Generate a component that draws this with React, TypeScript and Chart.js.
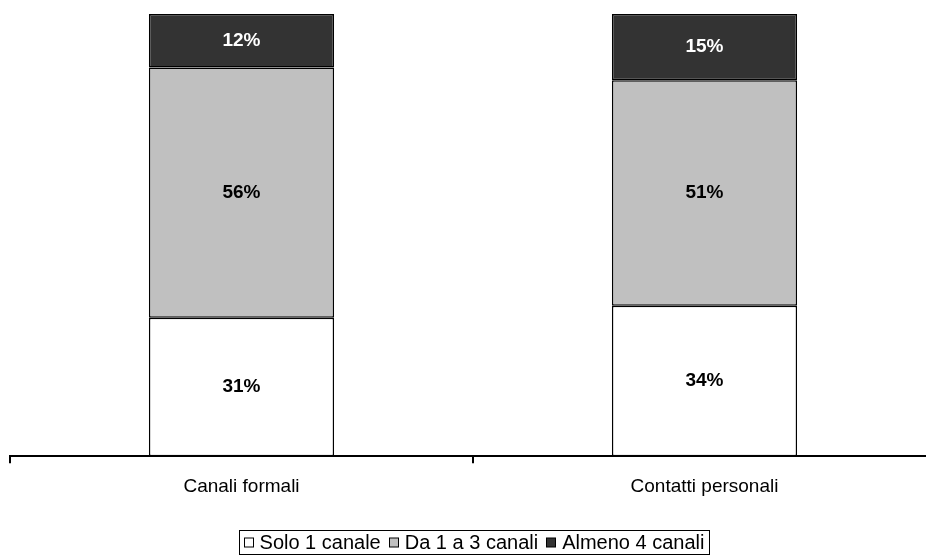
import React, { useEffect, useRef } from "react";
import { Chart, registerables } from "chart.js";

Chart.register(...registerables);

const categories = ["Canali formali", "Contatti personali"];
const seriesNames = ["Solo 1 canale", "Da 1 a 3 canali", "Almeno 4 canali"];
const solo1 = [31, 34];
const da1a3 = [56, 51];
const almeno4 = [12, 15];
const seriesValues = [solo1, da1a3, almeno4];
const seriesColors = ["#ffffff", "#c0c0c0", "#333333"];
const labelColors = ["#000000", "#000000", "#ffffff"];

const FONT = "'Liberation Sans', Arial, sans-serif";

const totals = categories.map((_, i) =>
  seriesValues.reduce((s, arr) => s + arr[i], 0)
);

const valueLabels = {
  id: "valueLabels",
  afterDatasetsDraw(chart: any) {
    const ctx = chart.ctx;
    ctx.save();
    ctx.font = `bold 19px ${FONT}`;
    ctx.textAlign = "center";
    ctx.textBaseline = "middle";
    chart.data.datasets.forEach((ds: any, di: number) => {
      const meta = chart.getDatasetMeta(di);
      meta.data.forEach((el: any, i: number) => {
        const p = el.getProps(["x", "y", "base"], true);
        ctx.fillStyle = labelColors[di];
        ctx.fillText(`${seriesValues[di][i]}%`, p.x, (p.y + p.base) / 2);
      });
    });
    ctx.restore();
  },
};

const boxedLegend = {
  id: "boxedLegend",
  afterDraw(chart: any) {
    const ctx = chart.ctx;
    ctx.save();
    ctx.font = `20px ${FONT}`;
    ctx.textBaseline = "middle";
    const box = 9;
    const gap = 7;
    const itemGap = 8;
    const items = chart.data.datasets.map((ds: any) => ({
      text: ds.label,
      color: ds.backgroundColor,
      w: ctx.measureText(ds.label).width,
    }));
    const total =
      items.reduce((s: number, it: any) => s + box + gap + it.w, 0) +
      itemGap * (items.length - 1);
    const cx = 474;
    const cy = 542;
    let x = cx - total / 2;
    ctx.strokeStyle = "#000";
    ctx.lineWidth = 1;
    ctx.strokeRect(Math.round(x - 5) + 0.5, 530.5, Math.round(total + 9), 24);
    items.forEach((it: any) => {
      ctx.fillStyle = it.color;
      ctx.fillRect(Math.round(x) + 0.5, cy - box / 2 + 0.5, box, box);
      ctx.strokeRect(Math.round(x) + 0.5, cy - box / 2 + 0.5, box, box);
      x += box + gap;
      ctx.fillStyle = "#000";
      ctx.textAlign = "left";
      ctx.fillText(it.text, x, cy + 1);
      x += it.w + itemGap;
    });
    ctx.restore();
  },
};

export default function App() {
  const ref = useRef<HTMLCanvasElement>(null);
  useEffect(() => {
    if (!ref.current) return;
    const chart = new Chart(ref.current, {
      type: "bar",
      data: {
        labels: categories,
        datasets: seriesNames.map((name, di) => ({
          label: name,
          data: seriesValues[di].map((v, i) => (v / totals[i]) * 100),
          backgroundColor: seriesColors[di],
          borderColor: "#000000",
          borderWidth: 1.5,
          borderSkipped: false,
          barPercentage: 0.5,
          categoryPercentage: 0.8,
          clip: false,
        })),
      },
      options: {
        responsive: false,
        animation: false,
        layout: { padding: { top: 14, left: 10, right: 4, bottom: 45 } },
        plugins: {
          legend: { display: false },
          tooltip: { enabled: false },
        },
        scales: {
          x: {
            stacked: true,
            grid: {
              display: true,
              drawOnChartArea: false,
              drawTicks: true,
              tickLength: 7,
              color: "#000",
              lineWidth: 2,
            },
            border: { display: true, color: "#000", width: 2 },
            ticks: {
              color: "#000",
              padding: 12,
              font: { family: FONT, size: 19 },
            },
          },
          y: {
            stacked: true,
            display: false,
            min: 0,
            max: 100,
          },
        },
      },
      plugins: [valueLabels, boxedLegend],
    });
    return () => chart.destroy();
  }, []);
  return (
    <div
      style={{
        position: "fixed",
        left: 0,
        top: 0,
        width: 926,
        height: 555,
        overflow: "hidden",
        background: "#fff",
      }}
    >
      <canvas ref={ref} width={940} height={555} style={{ display: "block" }} />
    </div>
  );
}
